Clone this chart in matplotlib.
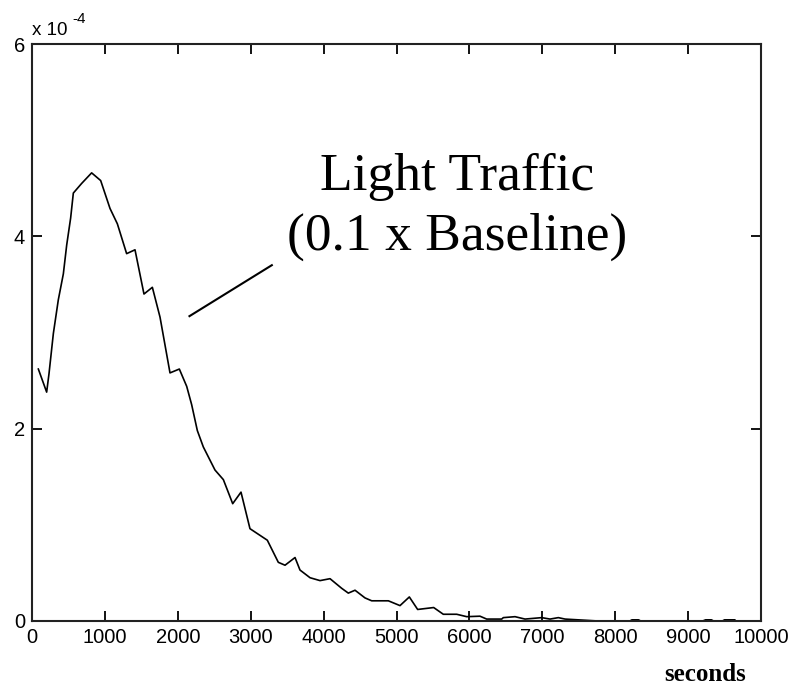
import matplotlib
matplotlib.use("Agg")
import matplotlib.pyplot as plt

# curve vertices (seconds, density in units of 1e-4)
seconds = [87, 201, 233, 293, 361, 430, 476, 530, 567, 681, 818, 942, 1070,
           1171, 1298, 1413, 1536, 1651, 1756, 1893, 2021, 2122, 2190, 2268,
           2350, 2510, 2625, 2753, 2867, 2990, 3228, 3379, 3471, 3608, 3676,
           3814, 3951, 4088, 4248, 4339, 4431, 4568, 4660, 4888, 5048, 5176,
           5290, 5510, 5642, 5826, 5963, 6145, 6237, 6443, 6465, 6626, 6763,
           6992, 7106, 7220, 7312, 7768, 8200, 8230, 8320, 8350, 9200, 9240,
           9320, 9350, 9470, 9500, 9640]
density = [2.62, 2.38, 2.57, 2.99, 3.34, 3.61, 3.91, 4.19, 4.45, 4.55, 4.66,
           4.58, 4.29, 4.13, 3.82, 3.86, 3.40, 3.47, 3.16, 2.58, 2.62, 2.44,
           2.25, 1.98, 1.81, 1.57, 1.47, 1.22, 1.34, 0.96, 0.84, 0.61, 0.58,
           0.66, 0.53, 0.45, 0.42, 0.44, 0.34, 0.29, 0.32, 0.24, 0.21, 0.21,
           0.16, 0.25, 0.12, 0.14, 0.07, 0.07, 0.045, 0.05, 0.02, 0.02, 0.035,
           0.045, 0.02, 0.035, 0.02, 0.035, 0.02, 0.0, 0.0, 0.012, 0.012, 0.0,
           0.0, 0.012, 0.012, 0.0, 0.0, 0.012, 0.012]

x_ticks = [0, 1000, 2000, 3000, 4000, 5000, 6000, 7000, 8000, 9000, 10000]
y_ticks = [0, 2, 4, 6]

fig = plt.figure(figsize=(7.9, 6.85), dpi=100)
ax = fig.add_axes([32 / 790, 64 / 685, 729 / 790, 577 / 685])

ax.plot(seconds, density, color="black", lw=1.2)

ax.set_xlim(0, 10000)
ax.set_ylim(0, 6)
ax.set_xticks(x_ticks)
ax.set_yticks(y_ticks)
ax.tick_params(direction="in", length=7, width=1.3, top=True, right=True,
               labelsize=14.5, pad=5, color="black")
for lab in ax.get_xticklabels() + ax.get_yticklabels():
    lab.set_family("Liberation Sans")
for sp in ax.spines.values():
    sp.set_linewidth(1.5)
    sp.set_color("#222222")

# exponent multiplier above the y axis
ax.text(0.0, 1.008, "x 10", transform=ax.transAxes, fontsize=13.5,
        family="Liberation Sans", ha="left", va="bottom")
ax.text(0.055, 1.032, "-4", transform=ax.transAxes, fontsize=11,
        family="Liberation Sans", ha="left", va="bottom")

ax.text(0.98, -0.092, "seconds", transform=ax.transAxes, fontsize=18,
        family="Liberation Serif", weight="bold", ha="right", va="center")

# annotation
ax.text(5830, 4.48, "Light Traffic", fontsize=38.5,
        family="Liberation Serif", ha="center", va="baseline")
ax.text(5830, 3.857, "(0.1 x Baseline)", fontsize=38.5,
        family="Liberation Serif", ha="center", va="baseline")
ax.plot([2160, 3290], [3.17, 3.70], color="black", lw=1.5)

fig.savefig("out.png", dpi=100)
